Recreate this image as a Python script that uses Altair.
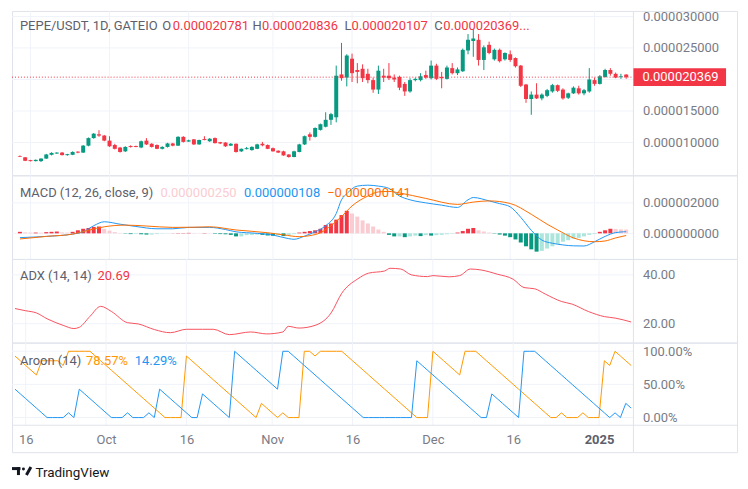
import altair as alt
import pandas as pd

# ---------------- data (prices in units of 1e-6 USDT) ----------------
start_date = "2024-09-14"

opens = [7.85, 7.65, 7.20, 7.05, 7.05, 7.45, 8.05, 8.25, 8.40, 8.00,
         8.05, 8.55, 8.40, 9.50, 10.70, 11.30, 11.10, 10.30, 9.60, 9.20,
         8.60, 9.45, 9.45, 9.20, 10.30, 9.80, 9.60, 9.00, 9.30, 9.85,
         9.50, 10.90, 10.15, 10.50, 9.70, 10.55, 10.20, 10.70, 10.05, 10.00,
         9.50, 9.80, 8.60, 8.95, 8.80, 9.00, 9.80, 9.60, 9.10, 8.70,
         8.60, 8.10, 7.70, 8.50, 9.70, 11.30, 10.90, 12.00, 12.50, 13.60,
         14.00, 20.80, 20.30, 23.30, 21.50, 21.70, 20.90, 19.90, 18.40, 20.60,
         20.60, 20.30, 20.40, 19.30, 18.10, 19.90, 19.90, 20.70, 20.20, 22.20,
         20.40, 20.10, 21.80, 21.00, 21.30, 24.60, 26.10, 26.30, 23.10, 25.50,
         23.20, 24.70, 23.20, 24.00, 23.40, 22.20, 19.20, 16.90, 17.60, 17.00,
         17.40, 18.10, 19.10, 18.40, 17.10, 17.80, 18.60, 17.80, 18.10, 19.90,
         19.30, 20.40, 21.50, 20.90, 20.40, 20.781]
highs = [7.95, 7.70, 7.25, 7.30, 7.50, 8.20, 8.45, 8.45, 8.50, 8.20,
         8.60, 8.60, 9.60, 10.80, 11.50, 11.95, 11.20, 11.00, 9.80, 9.30,
         9.40, 9.55, 9.50, 10.30, 10.70, 9.90, 9.70, 9.40, 9.95, 9.95,
         11.00, 11.00, 10.45, 10.55, 10.45, 11.00, 10.70, 10.80, 10.10, 10.05,
         9.90, 9.85, 9.05, 9.30, 9.40, 9.80, 10.10, 9.70, 9.20, 8.75,
         8.70, 8.15, 8.70, 9.80, 11.10, 11.60, 12.40, 13.00, 14.80, 14.70,
         22.20, 25.80, 24.00, 24.10, 22.60, 22.40, 21.70, 20.30, 22.20, 21.70,
         22.60, 20.80, 20.60, 19.60, 20.20, 20.30, 21.00, 21.40, 23.00, 22.50,
         21.20, 22.20, 22.60, 21.90, 24.90, 27.20, 28.00, 27.20, 25.40, 26.00,
         24.90, 24.90, 24.30, 24.60, 23.50, 22.30, 19.30, 18.10, 19.40, 17.80,
         18.50, 19.30, 19.20, 18.60, 17.90, 18.90, 19.00, 18.50, 21.80, 20.30,
         20.70, 21.70, 21.80, 21.10, 20.90, 20.836]
lows = [7.70, 7.05, 7.00, 7.00, 6.90, 7.40, 7.95, 8.20, 7.95, 7.90,
        8.00, 8.30, 8.35, 9.40, 10.60, 10.90, 10.20, 9.30, 8.90, 8.40,
        8.50, 9.20, 9.25, 9.10, 9.60, 9.20, 8.95, 8.90, 9.20, 9.40,
        9.45, 10.00, 10.10, 9.60, 9.65, 10.35, 10.10, 9.85, 9.75, 9.30,
        9.45, 8.40, 8.50, 8.90, 8.70, 8.95, 9.40, 8.95, 8.55, 8.35,
        7.90, 7.60, 7.65, 8.45, 9.60, 10.30, 10.80, 11.90, 12.40, 12.80,
        13.20, 19.80, 18.90, 19.60, 19.40, 19.60, 19.40, 17.90, 17.70, 19.60,
        19.90, 19.60, 18.30, 17.40, 17.90, 19.70, 19.70, 20.10, 20.00, 19.90,
        18.60, 20.00, 20.80, 20.70, 21.20, 24.00, 23.60, 22.20, 21.50, 24.00,
        23.00, 22.70, 23.00, 22.80, 21.90, 18.80, 16.30, 14.40, 16.90, 16.70,
        17.20, 17.90, 18.00, 16.80, 16.90, 17.70, 17.60, 17.50, 17.90, 19.00,
        19.20, 20.30, 20.60, 20.20, 20.10, 20.107]
closes = [7.75, 7.10, 7.05, 7.25, 7.45, 8.10, 8.35, 8.40, 8.00, 8.15,
          8.50, 8.40, 9.50, 10.70, 11.40, 11.10, 10.30, 9.40, 9.00, 8.50,
          9.30, 9.30, 9.30, 10.20, 9.70, 9.30, 9.00, 9.30, 9.85, 9.50,
          10.90, 10.10, 10.35, 9.70, 10.40, 10.40, 10.60, 9.90, 9.85, 9.40,
          9.80, 8.50, 9.00, 9.10, 9.30, 9.70, 9.55, 9.00, 8.60, 8.40,
          7.95, 7.70, 8.60, 9.70, 11.00, 10.90, 12.30, 12.90, 13.60, 14.50,
          20.60, 20.20, 23.80, 21.00, 21.20, 20.20, 19.90, 18.40, 21.40, 20.30,
          20.20, 20.00, 18.70, 18.10, 19.90, 20.10, 20.50, 20.30, 22.20, 20.10,
          20.20, 21.90, 21.00, 21.60, 24.70, 26.30, 26.50, 23.10, 25.10, 24.20,
          24.70, 22.90, 24.20, 23.10, 22.10, 19.00, 16.90, 17.60, 17.00, 17.60,
          18.30, 19.10, 18.20, 17.00, 17.80, 18.70, 17.80, 18.30, 20.00, 19.30,
          20.50, 21.50, 20.90, 20.30, 20.50, 20.369]
last_close = 20.369

# MACD (12, 26, close, 9) in units of 1e-6, sampled at day offsets
macd_days = [0, 5, 10, 12, 14, 16, 19, 22, 26, 29, 32, 36, 39, 41, 45, 48, 51, 52,
             54, 56, 58, 60, 61, 62, 64, 66, 68, 70, 72, 74, 77, 80, 83, 85, 86,
             89, 91, 93, 95, 97, 99, 101, 103, 105, 107, 109, 111, 113, 115]
macd_vals = [-0.28, -0.20, -0.05, 0.10, 0.50, 0.76, 0.60, 0.45, 0.30, 0.30, 0.39,
             0.39, 0.25, 0.10, 0.00, -0.11, -0.35, -0.39, -0.18, 0.10, 0.50, 1.30,
             2.20, 2.60, 3.10, 3.16, 3.10, 2.95, 2.45, 2.20, 2.00, 1.85, 1.70, 2.20,
             2.35, 2.13, 1.95, 1.74, 1.05, 0.20, -0.44, -0.65, -0.76, -0.82, -0.83,
             -0.55, -0.20, 0.05, 0.108]
signal_days = [0, 5, 10, 13, 16, 20, 24, 29, 33, 36, 41, 47, 50, 53, 55, 57, 59, 61,
               63, 66, 68, 70, 72, 77, 83, 86, 89, 93, 97, 100, 102, 105, 109, 111,
               113, 115]
signal_vals = [-0.37, -0.20, -0.05, 0.20, 0.43, 0.54, 0.48, 0.39, 0.40, 0.43, 0.22,
               0.04, -0.10, -0.22, -0.15, 0.04, 0.50, 1.10, 1.80, 2.45, 2.72, 2.75,
               2.65, 2.29, 1.90, 2.05, 2.13, 1.96, 1.25, 0.60, 0.22, -0.30, -0.55,
               -0.50, -0.30, -0.141]
hist_vals = [0.10, 0.06, 0.05, 0.05, 0.04, 0.08, 0.10, 0.12, 0.06, 0.05,
             0.10, 0.20, 0.30, 0.35, 0.42, 0.45, 0.30, 0.18, 0.08, 0.02,
             -0.02, -0.05, -0.04, -0.06, -0.08, -0.08, -0.05, -0.02, -0.01, 0.01,
             0.02, 0.02, 0.03, 0.02, 0.01, 0.02, 0.01, -0.03, -0.05, -0.06,
             -0.10, -0.20, -0.20, -0.12, -0.10, -0.08, -0.10, -0.14, -0.16, -0.12,
             -0.18, -0.10, -0.05, 0.05, 0.10, 0.15, 0.20, 0.30, 0.55, 0.65,
             0.90, 1.20, 1.48, 1.30, 1.10, 0.85, 0.65, 0.45, 0.25, 0.10,
             -0.10, -0.20, -0.20, -0.25, -0.20, -0.15, -0.18, -0.12, -0.15, -0.12,
             -0.10, -0.06, -0.03, 0.05, 0.15, 0.30, 0.35, 0.20, 0.12, 0.05,
             -0.02, -0.08, -0.15, -0.25, -0.40, -0.60, -0.85, -1.05, -1.20, -1.15,
             -1.00, -0.85, -0.70, -0.55, -0.45, -0.35, -0.30, -0.20, -0.10, -0.05,
             0.10, 0.20, 0.30, 0.28, 0.26, 0.25]

# ADX (14, 14)
adx_days = [0, 2, 4, 6, 9, 11, 12, 14, 16, 18, 21, 23, 26, 29, 32, 35, 37, 40, 44, 47,
            50, 51, 53, 56, 59, 61, 64, 66, 69, 70, 72, 74, 77, 78, 81, 83, 85, 87,
            90, 93, 95, 97, 99, 102, 104, 107, 110, 112, 115]
adx_vals = [26.2, 25.3, 24.4, 22.0, 19.3, 18.0, 18.5, 23.0, 27.1, 25.0, 20.4, 19.9,
            17.6, 16.3, 17.7, 17.7, 17.7, 15.5, 16.6, 15.8, 16.6, 18.9, 18.2, 19.3,
            24.4, 32.5, 38.4, 40.7, 41.6, 42.7, 42.4, 40.0, 39.3, 39.7, 39.2, 39.7,
            42.4, 42.0, 40.3, 38.2, 34.8, 34.3, 32.1, 29.1, 28.0, 25.0, 22.9, 22.3,
            20.69]

# Aroon (14): number of fourteenths, one per day
aroon_up_k = [13, 12, 11, 10, 9, 12, 12, 12, 12, 11,
              14, 14, 14, 14, 14, 13, 12, 11, 10, 9,
              8, 7, 6, 5, 4, 3, 2, 1, 0, 0,
              0, 0, 13, 12, 11, 10, 9, 8, 7, 6,
              5, 4, 3, 2, 1, 0, 3, 2, 1, 0,
              1, 0, 0, 0, 14, 14, 13, 14, 14, 14,
              14, 14, 13, 12, 11, 10, 9, 8, 7, 6,
              5, 4, 3, 2, 1, 0, 0, 0, 14, 13,
              12, 11, 10, 9, 14, 14, 14, 13, 12, 11,
              10, 9, 8, 7, 6, 5, 4, 3, 2, 1,
              0, 0, 1, 0, 0, 0, 1, 0, 0, 0,
              12, 11, 14, 13, 12, 11]
aroon_down_k = [6, 5, 4, 3, 2, 1, 0, 0, 0, 0,
                1, 0, 6, 5, 4, 3, 2, 1, 0, 0,
                0, 1, 0, 0, 0, 1, 0, 6, 5, 4,
                3, 2, 1, 0, 0, 5, 4, 3, 2, 1,
                0, 14, 13, 12, 11, 10, 9, 8, 7, 6,
                14, 14, 13, 12, 11, 10, 9, 8, 7, 6,
                5, 4, 3, 2, 1, 0, 0, 0, 0, 0,
                0, 0, 0, 0, 0, 12, 11, 10, 9, 8,
                7, 6, 5, 4, 3, 2, 1, 0, 0, 5,
                4, 3, 2, 1, 0, 14, 14, 14, 13, 12,
                11, 10, 9, 8, 7, 6, 5, 4, 3, 2,
                1, 0, 1, 0, 3, 2]

tick_dates = ["2024-09-16", "2024-10-01", "2024-10-16", "2024-11-01",
              "2024-11-16", "2024-12-01", "2024-12-16", "2025-01-01"]
price_grid = [10, 15, 20, 25, 30]
price_labels = [10, 15, 25, 30]   # 0.000020000 is hidden behind the last-price badge
macd_ticks = [0, 2]
adx_ticks = [20, 40]
aroon_ticks = [0, 50, 100]

# ---------------- styling ----------------
FONT = "Roboto"
UP = "#089981"
DOWN = "#F23645"
GRID = "#f0f3fa"
FRAME = "#e0e3eb"
AXC = "#787b86"
HDR = "#5d606b"
W, PW = 728, 624
H1, H2, H3, H4, HX = 165, 84, 84, 83, 27

n = len(opens)
dates = list(pd.date_range(start_date, periods=n, freq="D").strftime("%Y-%m-%d"))
E = 1e-6

candles = pd.DataFrame({
    "date": dates,
    "open": [v * E for v in opens], "high": [v * E for v in highs],
    "low": [v * E for v in lows], "close": [v * E for v in closes],
    "dir": ["up" if c >= o else "down" for o, c in zip(opens, closes)],
})
hcat = []
for i, h in enumerate(hist_vals):
    prev = hist_vals[i - 1] if i > 0 else h
    if h >= 0:
        hcat.append("pos_up" if h >= prev else "pos_dn")
    else:
        hcat.append("neg_dn" if h < prev else "neg_up")
hist_df = pd.DataFrame({"date": dates, "hist": [v * E for v in hist_vals], "cat": hcat})
macd_df = pd.DataFrame({"date": [dates[d] for d in macd_days], "v": [v * E for v in macd_vals]})
sig_df = pd.DataFrame({"date": [dates[d] for d in signal_days], "v": [v * E for v in signal_vals]})
adx_df = pd.DataFrame({"date": [dates[d] for d in adx_days], "v": adx_vals})
aroon_df = pd.DataFrame({"date": dates,
                         "up": [k / 14 * 100 for k in aroon_up_k],
                         "down": [k / 14 * 100 for k in aroon_down_k]})
ticks_df = pd.DataFrame({"date": tick_dates})


def xs():
    return alt.Scale(type="utc", range=[0, PW], domain=[
        alt.DateTime(year=2024, month=9, date=13, hours=10, minutes=36, utc=True),
        alt.DateTime(year=2025, month=1, date=7, hours=10, minutes=19, utc=True)])


x_axis = alt.Axis(
    orient="bottom", offset=-HX, grid=False, domain=False, ticks=False, labelPadding=8,
    labelFont=FONT, labelFontSize=13, labelOverlap=False, labelFlush=False, title=None,
    values=[alt.DateTime(year=int(d[:4]), month=int(d[5:7]), date=int(d[8:]), utc=True) for d in tick_dates],
    labelExpr="utcdate(datum.value) == 1 ? (utcmonth(datum.value) == 0 ? utcFormat(datum.value, '%Y') : utcFormat(datum.value, '%b')) : utcFormat(datum.value, '%d')",
    labelColor={"condition": {"test": "utcyear(datum.value) == 2025", "value": "#5d606b"}, "value": AXC},
    labelFontWeight={"condition": {"test": "utcyear(datum.value) == 2025", "value": "bold"}, "value": "normal"},
)


def X(field="date", axis=None):
    return alt.X(f"{field}:T", scale=xs(), axis=axis, title=None)


def yaxis(values, fmt=None, expr=None):
    kw = dict(orient="right", offset=PW - W, values=values, grid=False, domain=False,
              ticks=False, labelPadding=9, labelAlign="left", labelBaseline="middle",
              labelColor=AXC, labelFontSize=13, labelFont=FONT, title=None,
              labelOverlap=False, labelFlush=False)
    if fmt:
        kw["format"] = fmt
    if expr:
        kw["labelExpr"] = expr
    return alt.Axis(**kw)


ONE = alt.Data(values=[{"k": 0}])


def txt(s, px, py, color, size=13, weight="normal"):
    return alt.Chart(ONE).mark_text(text=s, align="left", baseline="middle", font=FONT,
                                    fontSize=size, color=color, fontWeight=weight
                                    ).encode(x=alt.value(px), y=alt.value(py))


def vgrid(h, xa=None):
    return alt.Chart(ticks_df).mark_rule(color=GRID, strokeWidth=1).encode(
        x=X(axis=xa), y=alt.value(0), y2=alt.value(h))


def sep(h):
    return alt.Chart(ONE).mark_rule(color=FRAME, strokeWidth=1).encode(
        x=alt.value(PW), y=alt.value(0), y2=alt.value(h))


# ---------------- panel 1 : price ----------------
ys1 = alt.Scale(domain=[4.80 * E, 30.87 * E], nice=False, zero=False)
ax1 = yaxis([t * E for t in price_labels], fmt=".9f")


def Y1(f):
    return alt.Y(f"{f}:Q", scale=ys1, axis=ax1, title=None)


cand_color = alt.Color("dir:N", scale=alt.Scale(domain=["up", "down"], range=[UP, DOWN]), legend=None)
grid1 = alt.Chart(pd.DataFrame({"v": [t * E for t in price_grid]})).mark_rule(
    color=GRID, strokeWidth=1).encode(y=Y1("v"), x=alt.value(0), x2=alt.value(PW))
wicks = alt.Chart(candles).mark_rule(strokeWidth=1).encode(
    x=X(), y=Y1("low"), y2="high:Q", color=cand_color)
bodies = alt.Chart(candles).mark_bar(size=4).encode(
    x=X(), y=Y1("open"), y2="close:Q", color=cand_color)
last_df = pd.DataFrame({"v": [last_close * E], "t": ["0.000020369"]})
dotted = alt.Chart(last_df).mark_rule(color=DOWN, strokeWidth=1, strokeDash=[1, 2]).encode(
    y=Y1("v"), x=alt.value(0), x2=alt.value(PW))
badge = alt.Chart(last_df).mark_rule(color=DOWN, strokeWidth=18).encode(
    y=Y1("v"), x=alt.value(PW), x2=alt.value(717))
badge_t = alt.Chart(last_df).mark_text(align="left", baseline="middle", color="white",
                                       font=FONT, fontSize=13).encode(
    y=Y1("v"), x=alt.value(633), text="t:N")
p1 = alt.layer(
    grid1, vgrid(H1), wicks, bodies, dotted, sep(H1), badge, badge_t,
    txt("PEPE/USDT, 1D, GATEIO", 8, 15, HDR),
    txt("O", 151, 15, HDR), txt("0.000020781", 161.5, 15, DOWN),
    txt("H", 241.5, 15, HDR), txt("0.000020836", 251, 15, DOWN),
    txt("L", 334, 15, HDR), txt("0.000020107", 341, 15, DOWN),
    txt("C", 424, 15, HDR), txt("0.000020369...", 433, 15, DOWN),
).properties(width=W, height=H1)

# ---------------- panel 2 : MACD ----------------
ys2 = alt.Scale(domain=[-1.68 * E, 3.81 * E], nice=False, zero=False)
ax2 = yaxis([t * E for t in macd_ticks], fmt=".9f")


def Y2(f):
    return alt.Y(f"{f}:Q", scale=ys2, axis=ax2, title=None)


hist_color = alt.Color("cat:N", legend=None, scale=alt.Scale(
    domain=["pos_up", "pos_dn", "neg_dn", "neg_up"],
    range=["#F23645", "#FACCD1", "#089981", "#ACE5DC"]))
grid2 = alt.Chart(pd.DataFrame({"v": [t * E for t in macd_ticks]})).mark_rule(
    color=GRID, strokeWidth=1).encode(y=Y2("v"), x=alt.value(0), x2=alt.value(PW))
hist = alt.Chart(hist_df).mark_bar(size=4).encode(x=X(), y=Y2("hist"), color=hist_color)
macd_line = alt.Chart(macd_df).mark_line(color="#2196F3", strokeWidth=1, interpolate="monotone").encode(
    x=X(), y=Y2("v"))
sig_line = alt.Chart(sig_df).mark_line(color="#FF6D00", strokeWidth=1, interpolate="monotone").encode(
    x=X(), y=Y2("v"))
p2 = alt.layer(
    grid2, vgrid(H2), hist, macd_line, sig_line, sep(H2),
    txt("MACD (12, 26, close, 9)", 8, 17.5, HDR),
    txt("0.000000250", 149, 17.5, "#FACCD1"),
    txt("0.000000108", 233, 17.5, "#2196F3"),
    txt("\u22120.000000141", 316.5, 17.5, "#FF6D00"),
).properties(width=W, height=H2)

# ---------------- panel 3 : ADX ----------------
ys3 = alt.Scale(domain=[12.24, 46.53], nice=False, zero=False)
ax3 = yaxis(adx_ticks, fmt=".2f")


def Y3(f):
    return alt.Y(f"{f}:Q", scale=ys3, axis=ax3, title=None)


grid3 = alt.Chart(pd.DataFrame({"v": adx_ticks})).mark_rule(color=GRID, strokeWidth=1).encode(
    y=Y3("v"), x=alt.value(0), x2=alt.value(PW))
adx_line = alt.Chart(adx_df).mark_line(color="#F7525F", strokeWidth=1, interpolate="monotone").encode(
    x=X(), y=Y3("v"))
p3 = alt.layer(
    grid3, vgrid(H3), adx_line, sep(H3),
    txt("ADX (14, 14)", 8, 17.5, HDR), txt("20.69", 85.8, 17.5, "#F23645"),
).properties(width=W, height=H3)

# ---------------- panel 4 : Aroon + time axis ----------------
ys4 = alt.Scale(domain=[-11.6, 113.1], nice=False, zero=False, range=[H4, 0])
ax4 = yaxis(aroon_ticks, expr="format(datum.value, '.2f') + '%'")


def Y4(f):
    return alt.Y(f"{f}:Q", scale=ys4, axis=ax4, title=None)


grid4 = alt.Chart(pd.DataFrame({"v": aroon_ticks})).mark_rule(color=GRID, strokeWidth=1).encode(
    y=Y4("v"), x=alt.value(0), x2=alt.value(PW))
vg4 = alt.Chart(ticks_df).mark_rule(color=GRID, strokeWidth=1).encode(
    x=X(axis=x_axis), y=alt.value(0), y2=alt.value(H4))
up_line = alt.Chart(aroon_df).mark_line(color="#FF9800", strokeWidth=1).encode(
    x=X(axis=x_axis), y=Y4("up"))
dn_line = alt.Chart(aroon_df).mark_line(color="#2196F3", strokeWidth=1).encode(
    x=X(axis=x_axis), y=Y4("down"))
hline = alt.Chart(ONE).mark_rule(color=FRAME, strokeWidth=1).encode(
    y=alt.value(H4), x=alt.value(0), x2=alt.value(W))
logo = [
    alt.Chart(ONE).mark_rule(color="#131722", strokeWidth=3).encode(
        x=alt.value(0), x2=alt.value(8.5), y=alt.value(126.5)),
    alt.Chart(ONE).mark_rule(color="#131722", strokeWidth=3).encode(
        x=alt.value(6.5), y=alt.value(125), y2=alt.value(133)),
    alt.Chart(ONE).mark_point(color="#131722", filled=True, size=9, opacity=1).encode(
        x=alt.value(11.5), y=alt.value(127)),
    alt.Chart(ONE).mark_rule(color="#131722", strokeWidth=3).encode(
        x=alt.value(14.5), x2=alt.value(19), y=alt.value(133), y2=alt.value(125)),
]
p4 = alt.layer(
    grid4, vg4, up_line, dn_line, sep(H4 + HX), hline,
    txt("Aroon (14)", 8, 18, HDR), txt("78.57%", 74.3, 18, "#FF9800"), txt("14.29%", 123.3, 18, "#2196F3"),
    *logo,
    txt("TradingView", 23.5, 130.5, "#131722", size=13.5),
).properties(width=W, height=H4 + HX)

chart = alt.vconcat(p1, p2, p3, p4, spacing=0, bounds="flush").resolve_scale(
    color="independent", y="independent"
).properties(
    padding={"left": 2, "top": 1, "right": 2, "bottom": 2}, background="white"
).configure_view(stroke=FRAME, strokeWidth=1)

chart.save("out.html", embed_options={"renderer": "svg", "actions": False})
